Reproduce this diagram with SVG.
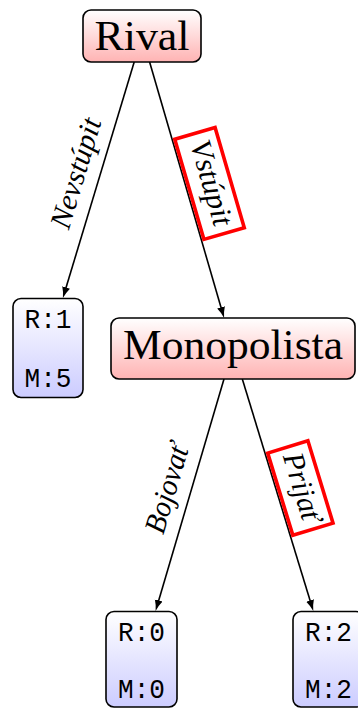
<svg xmlns="http://www.w3.org/2000/svg" width="358" height="708" viewBox="0 0 358 708">
<style>
.nd{stroke:#000;stroke-width:1.6}
.main{font-family:"Liberation Serif","DejaVu Serif",serif;font-size:42px;fill:#000;text-anchor:middle}
.leaf{font-family:"Liberation Mono","DejaVu Sans Mono",monospace;font-size:27px;fill:#000;text-anchor:middle}
.lbl{font-family:"Liberation Serif","DejaVu Serif",serif;font-style:italic;font-size:30px;fill:#000;text-anchor:middle}
.edge{stroke:#000;stroke-width:1.6;fill:none;marker-end:url(#arr)}
.rb{fill:#fff;stroke:#ff0000;stroke-width:3.6}
</style>
<defs>
<linearGradient id="gr" x1="0" y1="0" x2="0" y2="1"><stop offset="0" stop-color="#ffffff"/><stop offset="1" stop-color="#ffb3b3"/></linearGradient>
<linearGradient id="gb" x1="0" y1="0" x2="0" y2="1"><stop offset="0" stop-color="#ffffff"/><stop offset="1" stop-color="#ccccff"/></linearGradient>
<marker id="arr" markerUnits="userSpaceOnUse" markerWidth="13" markerHeight="10" viewBox="0 0 13 10" refX="5" refY="5" orient="auto">
<path d="M0,1 Q4.5,3.5 11,5 Q4.5,6.5 0,9 Z" fill="#000"/>
</marker>
</defs>
<g id="connectors">
<line class="edge" x1="134.2" y1="62" x2="64.64" y2="292.26"/>
<line class="edge" x1="149.6" y1="62" x2="222.42" y2="312.24"/>
<line class="edge" x1="224" y1="379" x2="157.3" y2="605.25"/>
<line class="edge" x1="242.3" y1="379" x2="311.54" y2="605.26"/>
</g>
<g id="rival">
<rect class="nd" x="83" y="10" width="118" height="52" rx="8" fill="url(#gr)"/>
<text class="main" x="142" y="50" textLength="95" lengthAdjust="spacingAndGlyphs">Rival</text>
</g>
<g id="monopolista">
<rect class="nd" x="111" y="318" width="244" height="61" rx="8" fill="url(#gr)"/>
<text class="main" x="233" y="359" textLength="220" lengthAdjust="spacingAndGlyphs">Monopolista</text>
</g>
<g id="leaf1">
<rect class="nd" x="13" y="298.5" width="70" height="99" rx="8" fill="url(#gb)"/>
<text class="leaf" x="48" y="328" textLength="47" lengthAdjust="spacingAndGlyphs">R:1</text>
<text class="leaf" x="48" y="387" textLength="47" lengthAdjust="spacingAndGlyphs">M:5</text>
</g>
<g id="leaf2">
<rect class="nd" x="106" y="611.5" width="71" height="95.5" rx="8" fill="url(#gb)"/>
<text class="leaf" x="141.5" y="641" textLength="47" lengthAdjust="spacingAndGlyphs">R:0</text>
<text class="leaf" x="141.5" y="698" textLength="47" lengthAdjust="spacingAndGlyphs">M:0</text>
</g>
<g id="leaf3">
<rect class="nd" x="293" y="611.5" width="71" height="95.5" rx="8" fill="url(#gb)"/>
<text class="leaf" x="328.5" y="641" textLength="47" lengthAdjust="spacingAndGlyphs">R:2</text>
<text class="leaf" x="328.5" y="698" textLength="47" lengthAdjust="spacingAndGlyphs">M:2</text>
</g>
<g id="label-nevstupit" transform="translate(98.55,180) rotate(-73.19)">
<text class="lbl" x="0" y="-14" textLength="114" lengthAdjust="spacingAndGlyphs">Nevstúpit</text>
</g>
<g id="label-vstupit" transform="translate(186.85,190) rotate(73.77)">
<rect class="rb" x="-52.2" y="-44.6" width="104.4" height="42"/>
<text class="lbl" x="0" y="-16" textLength="88" lengthAdjust="spacingAndGlyphs">Vstúpit</text>
</g>
<g id="label-bojovat" transform="translate(189.8,495) rotate(-73.57)">
<text class="lbl" x="0" y="-14" textLength="92" lengthAdjust="spacingAndGlyphs">Bojovať</text>
</g>
<g id="label-prijat" transform="translate(277.8,495) rotate(73)">
<rect class="rb" x="-43" y="-44.6" width="86" height="42"/>
<text class="lbl" x="0" y="-16" textLength="71" lengthAdjust="spacingAndGlyphs">Prijať</text>
</g>
</svg>
